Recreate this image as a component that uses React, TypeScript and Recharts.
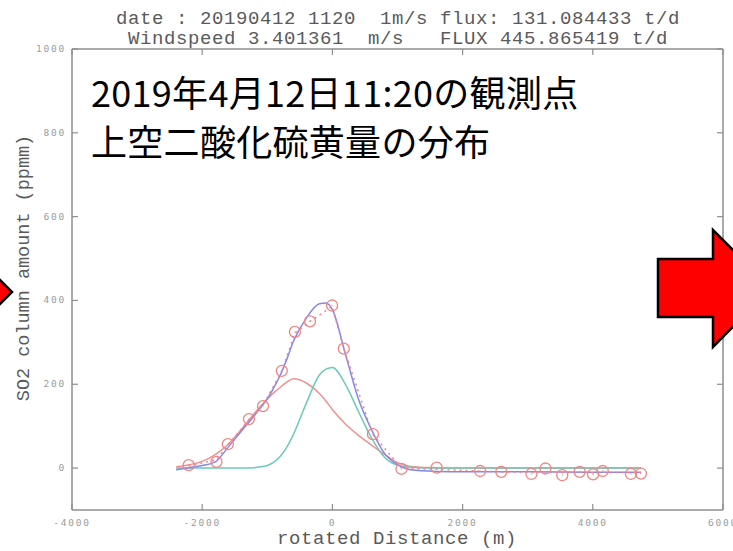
import React from 'react';
import { ComposedChart, Line, Scatter, XAxis, YAxis } from 'recharts';

// fit curves at these distances (m)
const fitX = [-2400, -2200, -2000, -1800, -1600, -1400, -1200, -1100, -1000, -900, -800, -700, -600, -400, -200, -100, 0, 200, 400, 600, 800, 1000, 1200, 1600, 2000, 3000, 4000, 4740];
const fitRed = [3, 8, 16, 32, 57, 92, 130, 148, 165, 180, 193, 205, 213, 203, 178, 160, 140, 105, 78, 55, 33, 13, 4, 1, 0, 0, 0, 0];
const fitCyan = [0, 0, 0, 0, 0, 0, 1, 3, 6, 14, 28, 50, 80, 155, 222, 236, 240, 200, 135, 72, 26, 7, 2, 0, 0, 0, 0, 0];
const fitBlue = [-4, 1, 6, 15, 50, 88, 125, 145, 165, 192, 222, 260, 302, 358, 392, 394, 378, 272, 165, 92, 35, 8, -4, -8, -9, -9, -10, -10];

// observed column amounts (ppmm)
const obsX = [-2208, -1781, -1606, -1282, -1065, -777, -576, -344, -5, 175, 622, 1061, 1601, 2270, 2594, 3057, 3273, 3531, 3798, 4004, 4153, 4586, 4740];
const obsY = [7, 15, 57, 117, 148, 232, 325, 350, 388, 285, 81, -2, 1, -7, -9, -14, -1, -17, -9, -15, -7, -14, -13];
// dotted trend through the observations
const trendY = [5, 20, 55, 115, 150, 232, 322, 350, 386, 285, 80, 0, -3, -7, -9, -10, -9, -11, -10, -11, -10, -11, -11];

const xTicks = [-4000, -2000, 0, 2000, 4000, 6000];
const yTicks = [0, 200, 400, 600, 800, 1000];

const titleLines = [
  'date : 20190412 1120  1m/s flux: 131.084433 t/d',
  'Windspeed 3.401361  m/s   FLUX 445.865419 t/d',
];
const noteLines = ['2019年4月12日11:20の観測点', '上空二酸化硫黄量の分布'];
const xLabel = 'rotated Distance (m)';
const yLabel = 'SO2 column amount (ppmm)';

const fitRows = fitX.map((x, i) => ({ x, red: fitRed[i], cyan: fitCyan[i], blue: fitBlue[i] }));
const obsRows = obsX.map((x, i) => ({ x, y: obsY[i], trend: trendY[i] }));

const FRAME = '#8e8e8e';
const TICK_TXT = '#9c9c9c';
const TXT = '#5a5a5a';
const MONO = '"Liberation Mono", "DejaVu Sans Mono", monospace';
const RED = '#f08585';

const tickText = { fontSize: 9.5, letterSpacing: 1.8, fill: TICK_TXT, fontFamily: '"DejaVu Sans Mono", monospace' };

const LeftTick = ({ x, y, payload }: any) => (
  <g>
    <line x1={x} x2={x + 6} y1={y} y2={y} stroke={FRAME} strokeWidth={1.2} />
    <text x={x - 6} y={y} dy={3} textAnchor="end" {...tickText}>{payload.value}</text>
  </g>
);
const RightTick = ({ x, y }: any) => (
  <line x1={x} x2={x - 6} y1={y} y2={y} stroke={FRAME} strokeWidth={1.2} />
);
const BottomTick = ({ x, y, payload }: any) => (
  <g>
    <line x1={x} x2={x} y1={y} y2={y - 6} stroke={FRAME} strokeWidth={1.2} />
    <text x={x} y={y + 16} textAnchor="middle" {...tickText}>{payload.value}</text>
  </g>
);
const TopTick = ({ x, y }: any) => (
  <line x1={x} x2={x} y1={y} y2={y + 6} stroke={FRAME} strokeWidth={1.2} />
);

const Ring = (p: any) => (
  <g>
    <circle cx={p.cx} cy={p.cy} r={5.5} fill="none" stroke={RED} strokeWidth={1.3} />
    <circle cx={p.cx} cy={p.cy} r={0.8} fill={RED} opacity={0.7} />
  </g>
);

export default function App() {
  return (
    <div style={{ position: 'absolute', left: 0, top: 0, width: 733, height: 551, background: '#fff', overflow: 'hidden' }}>
      <ComposedChart width={733} height={551} margin={{ top: 48, right: 0, bottom: 0, left: 0 }}>
        <XAxis
          dataKey="x"
          type="number"
          domain={[-4000, 6000]}
          ticks={xTicks}
          height={41}
          axisLine={{ stroke: FRAME, strokeWidth: 1.5 }}
          tickLine={false}
          tickSize={0}
          tickMargin={0}
          tick={BottomTick}
          interval={0}
          allowDataOverflow
        />
        <XAxis
          xAxisId="top"
          orientation="top"
          dataKey="x"
          type="number"
          domain={[-4000, 6000]}
          ticks={xTicks}
          height={1}
          axisLine={{ stroke: FRAME, strokeWidth: 1.5 }}
          tickLine={false}
          tickSize={0}
          tickMargin={0}
          tick={TopTick}
          interval={0}
          allowDataOverflow
        />
        <YAxis
          type="number"
          domain={[-100, 1000]}
          ticks={yTicks}
          width={72}
          axisLine={{ stroke: FRAME, strokeWidth: 1.5 }}
          tickLine={false}
          tickSize={0}
          tickMargin={0}
          tick={LeftTick}
          interval={0}
          allowDataOverflow
        />
        <YAxis
          yAxisId="right"
          orientation="right"
          type="number"
          domain={[-100, 1000]}
          ticks={yTicks}
          width={10}
          axisLine={{ stroke: FRAME, strokeWidth: 1.5 }}
          tickLine={false}
          tickSize={0}
          tickMargin={0}
          tick={RightTick}
          interval={0}
          allowDataOverflow
        />
        <Line data={fitRows} dataKey="red" type="monotone" stroke="#f29090" strokeWidth={1.5} dot={false} isAnimationActive={false} />
        <Line data={fitRows} dataKey="cyan" type="monotone" stroke="#6ccab6" strokeWidth={1.5} dot={false} isAnimationActive={false} />
        <Line data={fitRows} dataKey="blue" type="monotone" stroke="#8585ee" strokeWidth={1.5} dot={false} isAnimationActive={false} />
        <Line data={obsRows} dataKey="trend" type="linear" stroke={RED} strokeWidth={1.5} strokeDasharray="2 4" dot={false} isAnimationActive={false} />
        <Scatter data={obsRows} dataKey="y" shape={Ring} isAnimationActive={false} />
      </ComposedChart>

      <svg width={733} height={551} style={{ position: 'absolute', left: 0, top: 0, pointerEvents: 'none' }}>
        {titleLines.map((t, i) => (
          <text key={t} x={398} y={24 + i * 20} textAnchor="middle" fontSize={19} letterSpacing={0.6} fill={TXT} fontFamily={MONO} style={{ whiteSpace: 'pre' }}>
            {t}
          </text>
        ))}
        <text x={397} y={544} textAnchor="middle" fontSize={19} letterSpacing={0.6} fill={TXT} fontFamily={MONO}>
          {xLabel}
        </text>
        <text x={29} y={268} transform="rotate(-90 29 268)" textAnchor="middle" fontSize={18.5} fill={TXT} fontFamily={MONO}>
          {yLabel}
        </text>
        {noteLines.map((t, i) => (
          <text key={t} x={91} y={107 + i * 49} fontSize={36} letterSpacing={0.3} fill="#000" fontFamily='"Noto Sans CJK JP", "Noto Sans", sans-serif'>
            {t}
          </text>
        ))}
        <polygon points="-40,240 12,292 -40,344" fill="#ff0000" stroke="#000" strokeWidth={2.5} strokeLinejoin="miter" />
        <polygon points="658,259 713,259 713,230 771,288 713,347 713,317 658,317" fill="#ff0000" stroke="#000" strokeWidth={2.5} strokeLinejoin="miter" />
      </svg>
    </div>
  );
}
